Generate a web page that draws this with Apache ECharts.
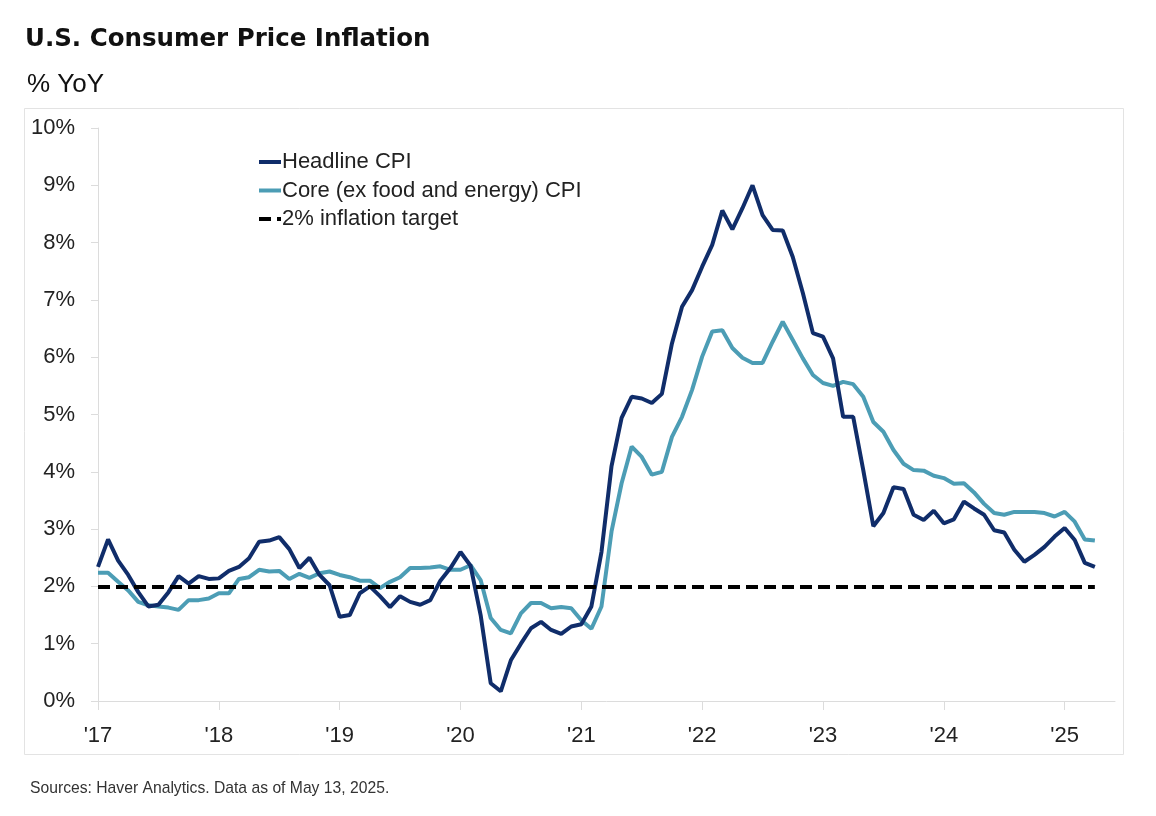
<!DOCTYPE html>
<html>
<head>
<meta charset="utf-8">
<script src="https://cdn.jsdelivr.net/npm/echarts@6/dist/echarts.min.js"></script>
<style>
html,body{margin:0;padding:0;background:#fff;}
#chart{width:1156px;height:816px;}
</style>
</head>
<body>
<div id="chart"></div>
<script>
// Months Jan 2017 .. Jun 2025 (axis runs a little past the last data point)
const months = [];
for (let y = 2017; y <= 2025; y++) {
  for (let m = 1; m <= 12; m++) {
    if (y === 2025 && m > 6) break;
    months.push(y + '-' + (m < 10 ? '0' + m : m));
  }
}
const yTicks = [0,1,2,3,4,5,6,7,8,9,10];
const target = 2;

const headline = [
  2.34, 2.82, 2.45, 2.20, 1.90, 1.65, 1.68, 1.90, 2.18, 2.05, 2.18, 2.13,
  2.14, 2.27, 2.34, 2.49, 2.78, 2.80, 2.86, 2.65, 2.32, 2.50, 2.20, 2.02,
  1.47, 1.50, 1.88, 2.00, 1.83, 1.64, 1.83, 1.73, 1.68, 1.76, 2.10, 2.32,
  2.60, 2.36, 1.50, 0.31, 0.17, 0.71, 1.00, 1.27, 1.38, 1.24, 1.17, 1.30,
  1.34, 1.65, 2.60, 4.10, 4.94, 5.31, 5.28, 5.20, 5.36, 6.24, 6.88, 7.17,
  7.58, 7.96, 8.56, 8.23, 8.60, 9.00, 8.48, 8.22, 8.21, 7.75, 7.12, 6.42,
  6.36, 5.98, 4.96, 4.96, 4.03, 3.05, 3.28, 3.73, 3.70, 3.25, 3.16, 3.32,
  3.10, 3.17, 3.48, 3.36, 3.25, 2.98, 2.94, 2.64, 2.43, 2.55, 2.69, 2.87,
  3.02, 2.81, 2.41, 2.34
];
const core = [
  2.24, 2.24, 2.08, 1.93, 1.73, 1.67, 1.65, 1.63, 1.59, 1.76, 1.76, 1.79,
  1.88, 1.88, 2.13, 2.16, 2.29, 2.26, 2.27, 2.13, 2.22, 2.15, 2.23, 2.26,
  2.20, 2.16, 2.10, 2.10, 1.97, 2.08, 2.16, 2.32, 2.32, 2.33, 2.35, 2.29,
  2.29, 2.37, 2.11, 1.45, 1.24, 1.18, 1.53, 1.71, 1.71, 1.62, 1.64, 1.62,
  1.41, 1.26, 1.65, 2.96, 3.80, 4.44, 4.26, 3.95, 4.00, 4.61, 4.96, 5.43,
  6.01, 6.45, 6.47, 6.16, 5.99, 5.90, 5.90, 6.27, 6.62, 6.30, 5.98, 5.69,
  5.55, 5.50, 5.57, 5.53, 5.31, 4.87, 4.70, 4.38, 4.14, 4.03, 4.02, 3.93,
  3.89, 3.79, 3.80, 3.64, 3.44, 3.28, 3.25, 3.30, 3.30, 3.30, 3.28, 3.22,
  3.30, 3.13, 2.82, 2.80
];

const navy = '#102d6a';
const teal = '#4c9db5';
const axisGray = '#dcdcdc';
const textColor = '#222222';
const font = '"Liberation Sans", Arial, sans-serif';

const chart = echarts.init(document.getElementById('chart'), null, {renderer: 'canvas'});
const lastIdx = headline.length - 1;

chart.setOption({
  animation: false,
  backgroundColor: '#ffffff',
  graphic: [
    {type: 'rect', shape: {x: 24.5, y: 108.5, width: 1099, height: 646},
     style: {fill: 'none', stroke: '#e3e3e3', lineWidth: 1}, z: -1, silent: true},
    {type: 'text', left: 25, top: 27,
     style: {text: 'U.S. Consumer Price Inflation', font: 'bold 24.5px "DejaVu Sans", sans-serif', fill: '#111'}},
    {type: 'text', left: 27, top: 72,
     style: {text: '% YoY', font: '26px ' + font, fill: '#111'}},
    {type: 'text', left: 30, top: 781,
     style: {text: 'Sources: Haver Analytics. Data as of May 13, 2025.', font: '15.7px ' + font, fill: '#333'}}
  ],
  legend: {
    orient: 'vertical',
    left: 252,
    top: 146,
    itemWidth: 22,
    itemHeight: 14,
    itemGap: 6.5,
    itemStyle: {opacity: 0},
    lineStyle: {width: 4},
    textStyle: {fontFamily: font, fontSize: 22, color: textColor, lineHeight: 22, padding: [0,0,0,-4]},
    data: ['Headline CPI', 'Core (ex food and energy) CPI', '2% inflation target']
  },
  grid: {left: 98, right: 41, top: 128, bottom: 115, containLabel: false},
  xAxis: {
    type: 'category',
    data: months,
    boundaryGap: false,
    axisLine: {show: true, lineStyle: {color: axisGray, width: 1}},
    axisTick: {show: true, length: 9, interval: (i) => i % 12 === 0, lineStyle: {color: axisGray}},
    axisLabel: {
      interval: (i) => i % 12 === 0,
      formatter: (v) => "'" + v.slice(2, 4),
      fontFamily: font, fontSize: 22, color: textColor, margin: 24
    },
    splitLine: {show: false}
  },
  yAxis: {
    type: 'value',
    min: yTicks[0],
    max: yTicks[yTicks.length - 1],
    interval: 1,
    axisLine: {show: true, lineStyle: {color: axisGray, width: 1}},
    axisTick: {show: true, length: 7, lineStyle: {color: axisGray}},
    axisLabel: {formatter: (v) => v + '%', fontFamily: font, fontSize: 22, color: textColor, margin: 23, padding: [4,0,0,0]},
    splitLine: {show: false}
  },
  series: [
    {
      name: 'Headline CPI', type: 'line', data: headline, showSymbol: false, symbol: 'none',
      lineStyle: {color: navy, width: 4}, itemStyle: {color: navy}, z: 4
    },
    {
      name: 'Core (ex food and energy) CPI', type: 'line', data: core, showSymbol: false, symbol: 'none',
      lineStyle: {color: teal, width: 4}, itemStyle: {color: teal}, z: 3
    },
    {
      name: '2% inflation target', type: 'line', data: [], symbol: 'none',
      lineStyle: {color: '#000', width: 4, type: [12, 6]}, itemStyle: {color: '#000'},
      markLine: {
        silent: true, symbol: ['none', 'none'], label: {show: false},
        lineStyle: {color: '#000', width: 4, type: [12, 6]},
        data: [[{coord: [months[0], target]}, {coord: [months[lastIdx], target]}]]
      },
      z: 2
    }
  ]
});
</script>
</body>
</html>
